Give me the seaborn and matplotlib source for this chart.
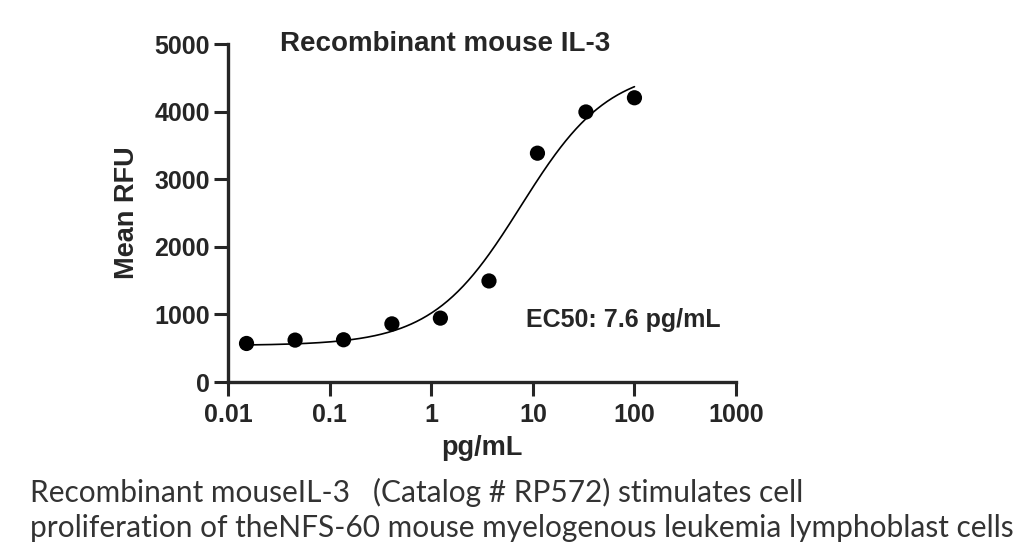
import numpy as np
import pandas as pd
import matplotlib
matplotlib.use("Agg")
import matplotlib.pyplot as plt
import seaborn as sns

# ------------------------------
# dados
# ------------------------------
conc_pg_ml = [0.0152, 0.0457, 0.137, 0.41, 1.23, 3.7, 11.1, 33.3, 100.0]
mean_rfu = [570, 620, 625, 860, 945, 1495, 3385, 3995, 4205]

# parâmetros do ajuste 4PL (curva mostrada)
fit_bottom = 540
fit_top = 4660
fit_ec50 = 7.6
fit_hill = 1.0

titulo = "Recombinant mouse IL-3"
ec50_txt = "EC50: 7.6 pg/mL"
legenda_1 = "Recombinant mouseIL-3   (Catalog # RP572) stimulates cell"
legenda_2 = "proliferation of theNFS-60 mouse myelogenous leukemia lymphoblast cells"

df = pd.DataFrame({"conc": conc_pg_ml, "rfu": mean_rfu})

xs = np.logspace(np.log10(conc_pg_ml[0]), np.log10(conc_pg_ml[-1]), 300)
curva = pd.DataFrame({
    "conc": xs,
    "rfu": fit_bottom + (fit_top - fit_bottom) / (1 + (fit_ec50 / xs) ** fit_hill),
})

# ------------------------------
# figura
# ------------------------------
sns.set_style("ticks")
plt.rcParams["font.family"] = ["Liberation Sans", "DejaVu Sans"]

fig = plt.figure(figsize=(10.24, 5.58), dpi=100)
ax = fig.add_axes([0.2227, 0.3154, 0.4961, 0.6057])

sns.lineplot(data=curva, x="conc", y="rfu", color="black", linewidth=1.2, ax=ax)
sns.scatterplot(data=df, x="conc", y="rfu", color="black", s=120,
                edgecolor="none", ax=ax, zorder=5)

ax.set_xscale("log")
ax.set_xlim(0.01, 1000)
ax.set_ylim(0, 5000)
ax.set_xticks([0.01, 0.1, 1, 10, 100, 1000])
ax.set_xticklabels(["0.01", "0.1", "1", "10", "100", "1000"])
ax.set_yticks([0, 1000, 2000, 3000, 4000, 5000])
ax.minorticks_off()
ax.tick_params(axis="both", which="major", length=10, width=2.2,
               labelsize=18, pad=3, direction="out")
ax.tick_params(axis="x", pad=5)
for lab in ax.get_xticklabels() + ax.get_yticklabels():
    lab.set_fontweight("bold")

sns.despine(ax=ax)
for sp in ["left", "bottom"]:
    ax.spines[sp].set_linewidth(2.4)

ax.set_xlabel("pg/mL", fontsize=19.5, fontweight="bold", labelpad=6)
ax.set_ylabel("Mean RFU", fontsize=19.5, fontweight="bold", labelpad=10)

ax.text(0.102, 1.0, titulo, transform=ax.transAxes, ha="left", va="center",
        fontsize=20, fontweight="bold")
ax.text(0.587, 0.183, ec50_txt, transform=ax.transAxes, ha="left", va="center",
        fontsize=18, fontweight="bold")

fig.text(0.029, 0.117, legenda_1, ha="left", va="center", fontsize=21.5,
         family=["Lato", "DejaVu Sans"], color="#333333")
fig.text(0.029, 0.053, legenda_2, ha="left", va="center", fontsize=21.5,
         family=["Lato", "DejaVu Sans"], color="#333333")

fig.savefig("out.png", dpi=100)
